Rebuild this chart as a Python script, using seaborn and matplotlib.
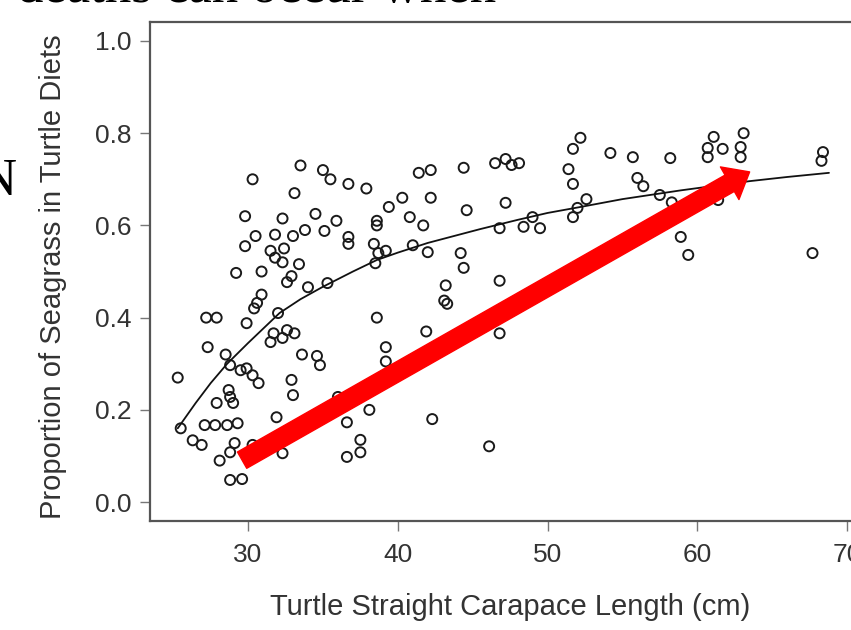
import matplotlib
matplotlib.use('Agg')
import matplotlib.pyplot as plt
import seaborn as sns
import pandas as pd

# carapace length (cm) vs proportion of seagrass
scl = [30.3, 33.5, 35.0, 35.5, 33.1, 29.8, 32.3, 34.5, 35.9, 30.5, 29.8, 31.8, 33.0, 33.8,
       35.1, 31.5, 32.4, 31.8, 32.3, 33.4, 30.9, 29.2, 32.9, 32.6, 34.0, 35.3, 30.9,
       30.6, 30.4, 27.2, 27.9, 29.9, 32.0, 31.7, 31.5, 32.6, 33.1, 32.3, 27.3, 28.5, 28.8,
       29.5, 29.9, 30.3, 30.7, 33.6, 34.6, 34.8, 25.3, 28.7, 28.8, 27.9, 29.0, 32.9, 33.0,
       31.9, 25.5, 27.1, 27.8, 28.6, 29.3, 26.3, 26.9, 29.1, 28.8, 28.1, 30.3, 32.3, 28.8,
       29.6,
       36.7, 37.9, 41.4, 42.2, 44.4, 46.5, 40.3, 42.2, 39.4, 44.6, 38.6, 38.6, 40.8, 41.7,
       36.7, 36.7, 38.4, 38.7, 39.2, 38.5, 41.0, 42.0, 44.2, 44.4, 43.2, 46.8,
       43.1, 43.3, 38.6, 41.9, 46.8, 39.2, 39.2, 36.0, 36.6, 38.1, 42.3, 37.5, 37.5, 36.6,
       46.1,
       47.2, 47.6, 48.1, 52.2, 51.7, 54.2, 55.7, 58.2, 51.4, 51.7, 56.0, 56.4, 47.2, 57.5,
       58.3, 52.6, 52.0, 51.7, 46.8, 48.4, 49.0, 49.5, 58.9,
       61.1, 63.1, 60.7, 60.7, 61.7, 62.9, 62.9, 68.4, 68.3, 61.4, 59.4, 67.7]
seagrass = [0.70, 0.73, 0.72, 0.70, 0.67, 0.62, 0.615, 0.625, 0.61, 0.577, 0.555, 0.58, 0.577, 0.59,
            0.588, 0.545, 0.55, 0.53, 0.52, 0.516, 0.50, 0.497, 0.49, 0.477, 0.466, 0.475, 0.45,
            0.432, 0.42, 0.40, 0.40, 0.388, 0.41, 0.366, 0.347, 0.373, 0.366, 0.356, 0.336, 0.32, 0.297,
            0.286, 0.29, 0.275, 0.258, 0.32, 0.317, 0.297, 0.27, 0.243, 0.228, 0.215, 0.215, 0.265, 0.232,
            0.184, 0.16, 0.167, 0.167, 0.167, 0.171, 0.134, 0.124, 0.128, 0.108, 0.09, 0.124, 0.106, 0.048,
            0.05,
            0.69, 0.68, 0.714, 0.72, 0.725, 0.735, 0.66, 0.66, 0.64, 0.633, 0.61, 0.60, 0.618, 0.60,
            0.575, 0.56, 0.56, 0.54, 0.545, 0.518, 0.557, 0.542, 0.54, 0.508, 0.47, 0.48,
            0.437, 0.43, 0.40, 0.37, 0.366, 0.336, 0.305, 0.228, 0.173, 0.20, 0.18, 0.135, 0.108, 0.098,
            0.121,
            0.744, 0.731, 0.735, 0.79, 0.766, 0.757, 0.748, 0.746, 0.722, 0.69, 0.703, 0.685, 0.649, 0.666,
            0.65, 0.657, 0.638, 0.618, 0.594, 0.597, 0.618, 0.594, 0.575,
            0.792, 0.80, 0.768, 0.748, 0.766, 0.77, 0.748, 0.759, 0.74, 0.655, 0.536, 0.54]

# fitted curve, points
curve_x = [25.3, 26.5, 27.5, 28.6, 30.0, 32.1, 33.5, 35.0, 37.0, 38.6, 40.0, 42.0, 45.5, 48.0,
           50.0, 52.2, 55.0, 58.9, 60.5, 63.5, 66.0, 68.8]
curve_y = [0.16, 0.215, 0.258, 0.30, 0.345, 0.41, 0.44, 0.467, 0.50, 0.525, 0.541, 0.562,
           0.592, 0.612, 0.627, 0.64, 0.657, 0.676, 0.683, 0.696, 0.705, 0.714]

# red arrow drawn over the chart (data coords)
arrow_tail = (29.6, 0.091)
arrow_tip = (63.5, 0.716)

df = pd.DataFrame({'scl': scl, 'seagrass': seagrass})
fit = pd.DataFrame({'scl': curve_x, 'seagrass': curve_y})

sns.set_style('white')
plt.rcParams['font.family'] = ['Liberation Sans', 'DejaVu Sans']

fig = plt.figure(figsize=(8.51, 6.30), dpi=100)
ax = fig.add_axes([0.1763, 0.173, 0.833, 0.792])

sns.scatterplot(data=df, x='scl', y='seagrass', ax=ax, marker='o', s=52,
                facecolor='none', edgecolor='#1a1a1a', linewidth=1.4)
sns.lineplot(data=fit, x='scl', y='seagrass', ax=ax, color='#111111', lw=1.3)

ax.set_xlim(23.45, 70.8)
ax.set_ylim(-0.041, 1.041)
ax.set_xticks([30, 40, 50, 60, 70])
ax.set_yticks([0.0, 0.2, 0.4, 0.6, 0.8, 1.0])
ax.set_yticklabels(['0.0', '0.2', '0.4', '0.6', '0.8', '1.0'])

for s in ax.spines.values():
    s.set_color('#555555')
    s.set_linewidth(1.6)
ax.tick_params(axis='both', direction='out', length=7, width=1.0, color='#777777',
               labelsize=19, labelcolor='#333333', bottom=True, left=True)
ax.tick_params(axis='x', pad=9)
ax.tick_params(axis='y', pad=6)

ax.set_xlabel('Turtle Straight Carapace Length (cm)', fontsize=21, color='#333333')
ax.set_ylabel('Proportion of Seagrass in Turtle Diets', fontsize=21, color='#333333')
ax.xaxis.set_label_coords(0.508, -0.144)
ax.yaxis.set_label_coords(-0.117, 0.49)

ax.annotate('', xy=arrow_tip, xytext=arrow_tail,
            arrowprops=dict(arrowstyle='simple,head_length=0.55,head_width=0.9,tail_width=0.45',
                            mutation_scale=30, color='#ff0000', shrinkA=0, shrinkB=0))

# slide text around the chart, partly cut off
fig.text(0.02, 0.9975, 'deaths can occur when', fontsize=38, family='Liberation Serif',
         va='baseline', ha='left', color='black')
fig.text(-0.025, 0.690, 'N', fontsize=38, family='Liberation Serif',
         va='baseline', ha='left', color='black')

plt.savefig('out.png', dpi=100)
